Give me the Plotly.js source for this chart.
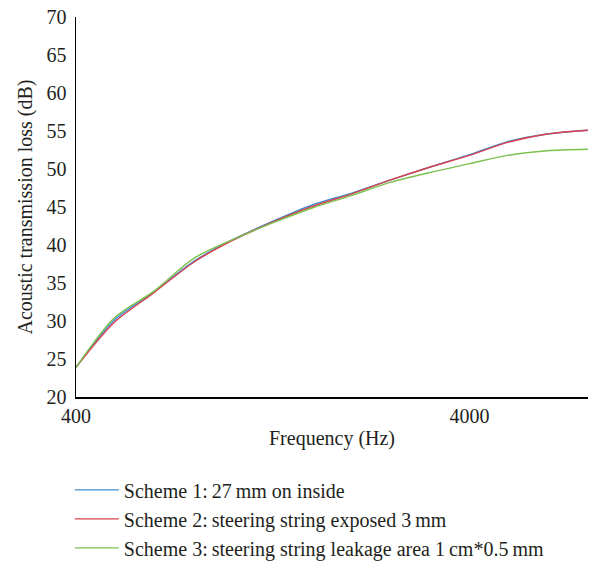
<!DOCTYPE html>
<html>
<head>
<meta charset="utf-8">
<script src="https://cdn.plot.ly/plotly-3.0.1.min.js"></script>
<style>html,body{margin:0;padding:0;background:#fff;}#chart{width:590px;height:562px;}</style>
</head>
<body>
<div id="chart"></div>
<script>
const frequency = [400, 500, 630, 800, 1000, 1250, 1600, 2000, 2500, 3150, 4000, 5000, 6300, 8000];
const scheme1 = [23.9, 30.1, 33.8, 37.9, 40.7, 43.0, 45.3, 46.8, 48.5, 50.2, 51.9, 53.6, 54.6, 55.1];
const scheme2 = [23.9, 29.8, 33.7, 37.8, 40.6, 42.9, 45.1, 46.7, 48.5, 50.2, 51.8, 53.5, 54.6, 55.1];
const scheme3 = [23.9, 30.4, 33.9, 38.3, 40.7, 42.8, 44.9, 46.5, 48.2, 49.5, 50.7, 51.8, 52.4, 52.6];
const seriesNames = [
  "Scheme 1:\u200927\u2009mm on inside",
  "Scheme 2:\u2009steering string exposed 3\u2009mm",
  "Scheme 3:\u2009steering string leakage area 1\u2009cm*0.5\u2009mm"
];
const colors = ["#3f8fd2", "#d9404e", "#7cc04f"];
const xTicks = [400, 4000];
const yTicks = [20, 25, 30, 35, 40, 45, 50, 55, 60, 65, 70];

const font = "Liberation Serif, Times New Roman, serif";
const series = [scheme1, scheme2, scheme3];
const data = series.map((ys, i) => ({
  x: frequency, y: ys, type: "scatter", mode: "lines",
  name: seriesNames[i], legendgroup: "g" + i,
  line: {color: colors[i], width: 1.4, shape: "spline", smoothing: 0.8}
}));

const layout = {
  width: 590, height: 562,
  margin: {l: 76, r: 2, t: 17, b: 165},
  paper_bgcolor: "#fff", plot_bgcolor: "#fff",
  font: {family: font, size: 20, color: "#231f20"},
  showlegend: true,
  legend: {x: -0.012, xanchor: "left", xref: "paper", y: 0.163, yanchor: "top", yref: "container",
           font: {family: font, size: 20, color: "#231f20"},
           itemwidth: 44, tracegroupgap: 0, bgcolor: "rgba(0,0,0,0)"},
  xaxis: {type: "log", range: [Math.log10(400), Math.log10(8000)],
          tickvals: xTicks, ticktext: xTicks.map(String),
          showgrid: false, zeroline: false, showline: true, linecolor: "#000", linewidth: 1.5,
          ticks: "", ticklabelstandoff: 0,
          title: {text: "Frequency (Hz)", standoff: 5, font: {family: font, size: 20}}},
  yaxis: {range: [20, 70], tickvals: yTicks,
          showgrid: false, zeroline: false, showline: true, linecolor: "#000", linewidth: 1.5,
          ticks: "", ticklabelstandoff: 4,
          title: {text: "Acoustic transmission loss (dB)", standoff: 8, font: {family: font, size: 20}}}
};
Plotly.newPlot("chart", data, layout, {displayModeBar: false, staticPlot: true});
</script>
</body>
</html>
